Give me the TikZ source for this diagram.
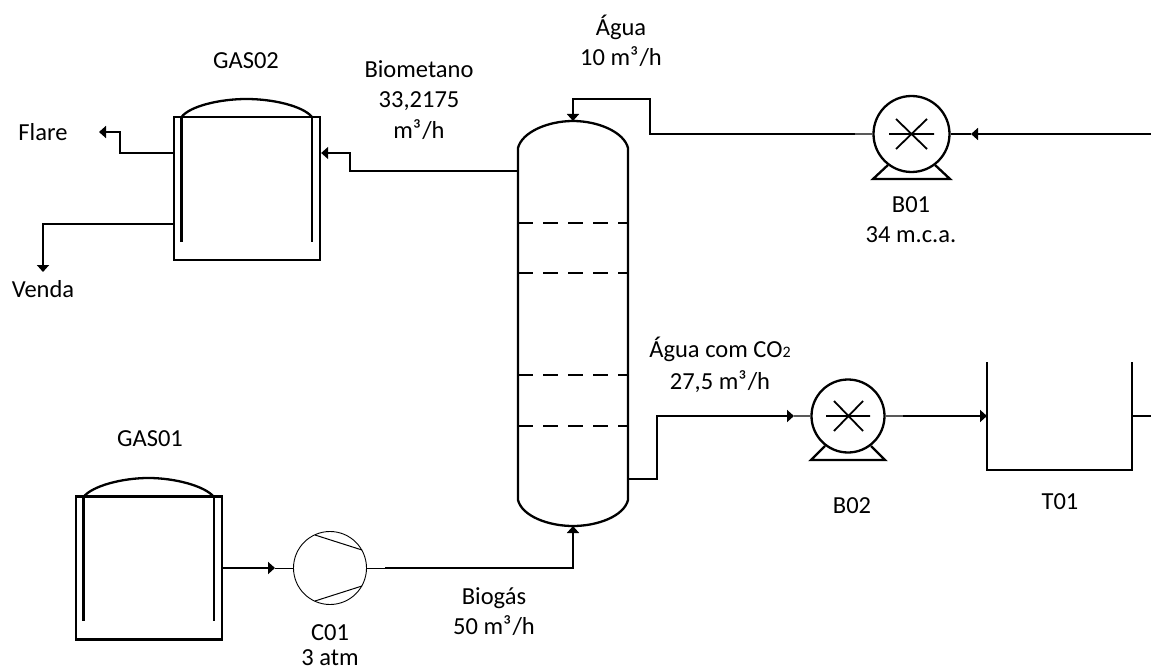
\documentclass[tikz,border=0pt]{standalone}
\usepackage{fontspec}
\setmainfont{Carlito}
\usetikzlibrary{arrows.meta}
\tikzset{
  x=1pt,y=-1pt,
  pipe/.style={line width=1.9pt,line join=miter},
  flow/.style={pipe,-{Triangle[length=7pt,width=12pt]}},
  thinpipe/.style={line width=1pt},
  stub/.style={line width=2pt,draw=black!65},
  equip/.style={line width=2.3pt},
  tankbox/.style={rectangle,draw,line width=2.3pt,minimum width=146pt,minimum height=143pt,inner sep=0pt},
  pumpbody/.style={circle,draw,line width=2.3pt,inner sep=0pt,fill=white},
  compbody/.style={circle,draw,line width=0.9pt,inner sep=0pt,minimum size=73pt},
  lbl/.style={anchor=base,inner sep=0pt,font=\fontsize{24.5}{24.5}\selectfont},
}
\newcommand{\mch}{m³\kern1.2pt/h}
\begin{document}
\begin{tikzpicture}
\useasboundingbox (0,0) rectangle (1151,671);
% GAS02
\node[tankbox] (gas02) at (247,188.5) {};
\draw[equip] (181.5,117) -- (181.5,242) (312,117) -- (312,242);
\draw[equip] (181.5,117) .. controls (190,106) and (220,99) .. (246.5,99) .. controls (273,99) and (303,106) .. (312,117);
% GAS01
\node[tankbox] (gas01) at (149,568) {};
\draw[equip] (83.5,497) -- (83.5,621) (214,497) -- (214,621);
\draw[equip] (83.5,497) .. controls (92,486) and (122,478) .. (148.5,478) .. controls (175,478) and (205,486) .. (214,497);
% Column
\draw[equip] (518,148) .. controls (522,132) and (548,121) .. (573,121) .. controls (598,121) and (624,132) .. (628,148)
  -- (628,500) .. controls (624,516) and (598,526) .. (573,526) .. controls (548,526) and (522,516) .. (518,500) -- cycle;
\coordinate (coltop) at (573,121);
\coordinate (colbot) at (573,526);
\coordinate (colgas) at (518,171);
\coordinate (colliq) at (628,479);
\foreach \yy in {223,273,375,426}
  \draw[line width=1.8pt,dash pattern=on 15pt off 10pt] (518,\yy) -- (628,\yy);
% Pump B01
\node[pumpbody,minimum size=76pt] (b01) at (911.5,134) {};
\draw[equip] (888,165) -- (873,179) -- (950,179) -- (935,165);
\draw[line width=1.8pt] (889,134) -- (934,134) (896,119) -- (927,149) (896,149) -- (927,119);
% Pump B02
\node[pumpbody,minimum size=73pt] (b02) at (848,416) {};
\draw[equip] (825,446) -- (811,460) -- (885,460) -- (871,446);
\draw[line width=1.8pt] (826,416) -- (870,416) (834,401) -- (863,431) (834,431) -- (863,401);
% Compressor
\node[compbody] (c01) at (330,568) {};
\draw[line width=1pt] (315,535) -- (362,550) (315,601) -- (362,586);
% Tank T01
\draw[equip] (987,362) -- (987,470) -- (1132,470) -- (1132,362);
\coordinate (t01in) at (987,416);
\coordinate (t01out) at (1132,416);
\coordinate (flare) at (99,132);
\coordinate (venda) at (43,272);
\coordinate (supply) at (1151,134);
\coordinate (drain) at (1151,416);
\coordinate (b01in) at (971,134);
\coordinate (b01stub) at (855,134);
\coordinate (b02in) at (794,416);
\coordinate (b02stub) at (903,416);
\coordinate (c01in) at (275,568);
\coordinate (c01out) at (385,568);
% Connectors
\draw[flow] (gas02.west |- 0,153) -| (120,132) -- (flare);
\draw[flow] (gas02.west |- 0,224) -| (venda);
\draw[flow] (colgas) -| (350,153) -- (gas02.east |- 0,153);
\draw[flow] (supply) -- (b01in);
\draw[pipe] (b01in) -- (b01.east);
\draw[flow] (b01stub) -- (650,134) -- (650,99) -| (coltop);
\draw[stub] (b01.west) -- (b01stub);
\draw[flow] (colliq) -| (657,416) -- (b02in);
\draw[stub] (b02in) -- (b02.west);
\draw[stub] (b02.east) -- (b02stub);
\draw[flow] (b02stub) -- (t01in);
\draw[pipe] (t01out) -- (drain);
\draw[flow] (gas01.east) -- (c01in);
\draw[thinpipe] (c01in) -- (c01.west);
\draw[thinpipe] (c01.east) -- (c01out);
\draw[flow] (c01out) -| (colbot);
% Labels
\node[lbl] (tgas02) at (246,69) {GAS02};
\node[lbl] (tflare) at (43,141) {Flare};
\node[lbl] (tvenda) at (43,297) {Venda};
\node[lbl] (tbio1) at (419,78) {Biometano};
\node[lbl] (tbio2) at (419,108) {33,2175};
\node[lbl] (tbio3) at (419,139) {\mch};
\node[lbl] (tag1) at (621,36) {Água};
\node[lbl] (tag2) at (621,66) {10 \mch};
\node[lbl] (tb011) at (911,213) {B01};
\node[lbl] (tb012) at (911,243) {34 m.c.a.};
\node[lbl] (taco1) at (720,357) {Água com CO{\fontsize{16}{16}\selectfont 2}};
\node[lbl] (taco2) at (720,389) {27,5 \mch};
\node[lbl] (tb02) at (852,513) {B02};
\node[lbl] (tt01) at (1060,509) {T01};
\node[lbl] (tgas01) at (150,446) {GAS01};
\node[lbl] (tc011) at (330,640) {C01};
\node[lbl] (tc012) at (330,665) {3 atm};
\node[lbl] (tbg1) at (494,604) {Biogás};
\node[lbl] (tbg2) at (494,634) {50 \mch};
\end{tikzpicture}
\end{document}
